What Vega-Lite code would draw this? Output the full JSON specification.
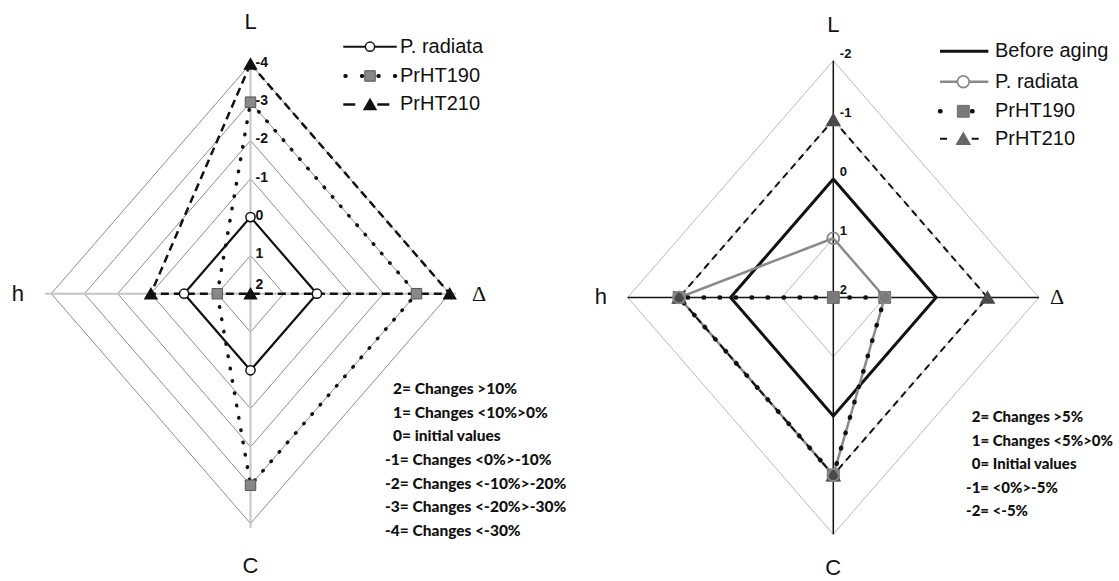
{
  "$schema": "https://vega.github.io/schema/vega-lite/v6.json",
  "padding": 0,
  "spacing": 0,
  "bounds": "flush",
  "background": "white",
  "config": {"view": {"stroke": null}, "axis": {"disable": true}, "concat": {"spacing": 0}},
  "datasets": {
    "left": [
      {"k":"g","s":"g1","a":"L","v":1,"o":0},{"k":"g","s":"g1","a":"D","v":1,"o":1},{"k":"g","s":"g1","a":"C","v":1,"o":2},{"k":"g","s":"g1","a":"h","v":1,"o":3},{"k":"g","s":"g1","a":"L","v":1,"o":4},
      {"k":"g","s":"g0","a":"L","v":0,"o":0},{"k":"g","s":"g0","a":"D","v":0,"o":1},{"k":"g","s":"g0","a":"C","v":0,"o":2},{"k":"g","s":"g0","a":"h","v":0,"o":3},{"k":"g","s":"g0","a":"L","v":0,"o":4},
      {"k":"g","s":"gm1","a":"L","v":-1,"o":0},{"k":"g","s":"gm1","a":"D","v":-1,"o":1},{"k":"g","s":"gm1","a":"C","v":-1,"o":2},{"k":"g","s":"gm1","a":"h","v":-1,"o":3},{"k":"g","s":"gm1","a":"L","v":-1,"o":4},
      {"k":"g","s":"gm2","a":"L","v":-2,"o":0},{"k":"g","s":"gm2","a":"D","v":-2,"o":1},{"k":"g","s":"gm2","a":"C","v":-2,"o":2},{"k":"g","s":"gm2","a":"h","v":-2,"o":3},{"k":"g","s":"gm2","a":"L","v":-2,"o":4},
      {"k":"g","s":"gm3","a":"L","v":-3,"o":0},{"k":"g","s":"gm3","a":"D","v":-3,"o":1},{"k":"g","s":"gm3","a":"C","v":-3,"o":2},{"k":"g","s":"gm3","a":"h","v":-3,"o":3},{"k":"g","s":"gm3","a":"L","v":-3,"o":4},
      {"k":"g","s":"gm4","a":"L","v":-4,"o":0},{"k":"g","s":"gm4","a":"D","v":-4,"o":1},{"k":"g","s":"gm4","a":"C","v":-4,"o":2},{"k":"g","s":"gm4","a":"h","v":-4,"o":3},{"k":"g","s":"gm4","a":"L","v":-4,"o":4},
      {"k":"s","s":"P. radiata","a":"L","v":0,"o":0},{"k":"s","s":"P. radiata","a":"D","v":0,"o":1},{"k":"s","s":"P. radiata","a":"C","v":0,"o":2},{"k":"s","s":"P. radiata","a":"h","v":0,"o":3},{"k":"s","s":"P. radiata","a":"L","v":0,"o":4},
      {"k":"s","s":"PrHT190","a":"L","v":-3,"o":0},{"k":"s","s":"PrHT190","a":"D","v":-3,"o":1},{"k":"s","s":"PrHT190","a":"C","v":-3,"o":2},{"k":"s","s":"PrHT190","a":"h","v":1,"o":3},{"k":"s","s":"PrHT190","a":"L","v":-3,"o":4},
      {"k":"s","s":"PrHT210","a":"L","v":-4,"o":0},{"k":"s","s":"PrHT210","a":"D","v":-4,"o":1},{"k":"s","s":"PrHT210","a":"C","v":2,"o":2},{"k":"s","s":"PrHT210","a":"h","v":-1,"o":3},{"k":"s","s":"PrHT210","a":"L","v":-4,"o":4},
      {"k":"t","t":"-4","a":"L","v":-4},{"k":"t","t":"-3","a":"L","v":-3},{"k":"t","t":"-2","a":"L","v":-2},{"k":"t","t":"-1","a":"L","v":-1},{"k":"t","t":"0","a":"L","v":0},{"k":"t","t":"1","a":"L","v":1},{"k":"t","t":"2","a":"L","v":2},
      {"k":"n","a":"n","v":2}
    ],
    "right": [
      {"k":"g","s":"g1","a":"L","v":1,"o":0},{"k":"g","s":"g1","a":"D","v":1,"o":1},{"k":"g","s":"g1","a":"C","v":1,"o":2},{"k":"g","s":"g1","a":"h","v":1,"o":3},{"k":"g","s":"g1","a":"L","v":1,"o":4},
      {"k":"g","s":"g0","a":"L","v":0,"o":0},{"k":"g","s":"g0","a":"D","v":0,"o":1},{"k":"g","s":"g0","a":"C","v":0,"o":2},{"k":"g","s":"g0","a":"h","v":0,"o":3},{"k":"g","s":"g0","a":"L","v":0,"o":4},
      {"k":"g","s":"gm1","a":"L","v":-1,"o":0},{"k":"g","s":"gm1","a":"D","v":-1,"o":1},{"k":"g","s":"gm1","a":"C","v":-1,"o":2},{"k":"g","s":"gm1","a":"h","v":-1,"o":3},{"k":"g","s":"gm1","a":"L","v":-1,"o":4},
      {"k":"g","s":"gm2","a":"L","v":-2,"o":0},{"k":"g","s":"gm2","a":"D","v":-2,"o":1},{"k":"g","s":"gm2","a":"C","v":-2,"o":2},{"k":"g","s":"gm2","a":"h","v":-2,"o":3},{"k":"g","s":"gm2","a":"L","v":-2,"o":4},
      {"k":"s","s":"Before aging","a":"L","v":0,"o":0},{"k":"s","s":"Before aging","a":"D","v":0,"o":1},{"k":"s","s":"Before aging","a":"C","v":0,"o":2},{"k":"s","s":"Before aging","a":"h","v":0,"o":3},{"k":"s","s":"Before aging","a":"L","v":0,"o":4},
      {"k":"s","s":"P. radiata","a":"L","v":1,"o":0},{"k":"s","s":"P. radiata","a":"D","v":1,"o":1},{"k":"s","s":"P. radiata","a":"C","v":-1,"o":2},{"k":"s","s":"P. radiata","a":"h","v":-1,"o":3},{"k":"s","s":"P. radiata","a":"L","v":1,"o":4},
      {"k":"s","s":"PrHT190","a":"L","v":2,"o":0},{"k":"s","s":"PrHT190","a":"D","v":1,"o":1},{"k":"s","s":"PrHT190","a":"C","v":-1,"o":2},{"k":"s","s":"PrHT190","a":"h","v":-1,"o":3},{"k":"s","s":"PrHT190","a":"L","v":2,"o":4},
      {"k":"s","s":"PrHT210","a":"L","v":-1,"o":0},{"k":"s","s":"PrHT210","a":"D","v":-1,"o":1},{"k":"s","s":"PrHT210","a":"C","v":-1,"o":2},{"k":"s","s":"PrHT210","a":"h","v":-1,"o":3},{"k":"s","s":"PrHT210","a":"L","v":-1,"o":4},
      {"k":"t","t":"-2","a":"L","v":-2},{"k":"t","t":"-1","a":"L","v":-1},{"k":"t","t":"0","a":"L","v":0},{"k":"t","t":"1","a":"L","v":1},{"k":"t","t":"2","a":"L","v":2},
      {"k":"n","a":"n","v":2}
    ]
  },
  "hconcat": [
    {
      "width": 560,
      "height": 581,
      "data": {"name": "left"},
      "transform": [
        {"calculate": "2 - datum.v", "as": "lev"},
        {"calculate": "datum.a === 'D' ? datum.lev : (datum.a === 'h' ? -datum.lev : 0)", "as": "px"},
        {"calculate": "datum.a === 'L' ? datum.lev : (datum.a === 'C' ? -datum.lev : 0)", "as": "py"}
      ],
      "encoding": {
        "x": {"field": "px", "type": "quantitative", "scale": {"domain": [-7.545, 9.322], "nice": false, "zero": false}},
        "y": {"field": "py", "type": "quantitative", "scale": {"domain": [-7.501, 7.668], "nice": false, "zero": false}}
      },
      "layer": [
        {"transform": [{"filter": "datum.k === 'g'"}], "mark": {"type": "line", "color": "#8c8c8c", "strokeWidth": 1}, "encoding": {"detail": {"field": "s"}, "order": {"field": "o"}}},
        {"transform": [{"filter": "datum.k === 'n'"}], "mark": {"type": "rule", "color": "#c4c4c4", "strokeWidth": 2}, "encoding": {"x": {"datum": -6.19, "type": "quantitative"}, "x2": {"datum": 6.19}, "y": {"datum": 0, "type": "quantitative"}}},
        {"transform": [{"filter": "datum.k === 'n'"}], "mark": {"type": "rule", "color": "#c4c4c4", "strokeWidth": 2}, "encoding": {"x": {"datum": 0, "type": "quantitative"}, "y": {"datum": 6.0, "type": "quantitative"}, "y2": {"datum": -6.12}}},
        {"transform": [{"filter": "datum.k === 's' && datum.s === 'P. radiata'"}], "mark": {"type": "line", "color": "#111", "strokeWidth": 2.2}, "encoding": {"order": {"field": "o"}}},
        {"transform": [{"filter": "datum.k === 's' && datum.s === 'PrHT190'"}], "mark": {"type": "line", "color": "#111", "strokeWidth": 3.5, "strokeDash": [0.5, 12], "strokeCap": "round"}, "encoding": {"order": {"field": "o"}}},
        {"transform": [{"filter": "datum.k === 's' && datum.s === 'PrHT210'"}], "mark": {"type": "line", "color": "#111", "strokeWidth": 2.5, "strokeDash": [8, 5]}, "encoding": {"order": {"field": "o"}}},
        {"transform": [{"filter": "datum.k === 's' && datum.s === 'P. radiata' && datum.o < 4"}], "mark": {"type": "point", "shape": "circle", "size": 85, "filled": true, "fill": "white", "stroke": "#111", "strokeWidth": 1.5, "opacity": 1}},
        {"transform": [{"filter": "datum.k === 's' && datum.s === 'PrHT190' && datum.o < 4"}], "mark": {"type": "point", "shape": "square", "size": 110, "filled": true, "fill": "#888888", "stroke": "#555", "strokeWidth": 1, "opacity": 1}},
        {"transform": [{"filter": "datum.k === 's' && datum.s === 'PrHT210' && datum.o < 4"}], "mark": {"type": "point", "shape": "triangle-up", "size": 120, "filled": true, "fill": "#111", "stroke": "#111", "opacity": 1}},
        {"transform": [{"filter": "datum.k === 't' && datum.t !== '2'"}], "mark": {"type": "text", "align": "left", "baseline": "middle", "dx": 5, "dy": -1, "font": "Liberation Sans", "fontSize": 14, "fontWeight": "bold", "color": "#111"}, "encoding": {"text": {"field": "t"}}},
        {"transform": [{"filter": "datum.k === 't' && datum.t === '2'"}], "mark": {"type": "text", "align": "left", "baseline": "middle", "dx": 5, "dy": -9, "font": "Liberation Sans", "fontSize": 14, "fontWeight": "bold", "color": "#111"}, "encoding": {"text": {"field": "t"}}},
        {"transform": [{"filter": "datum.k === 'n'"}], "mark": {"type": "text", "text": "L", "align": "center", "baseline": "middle", "font": "Liberation Sans", "fontSize": 22, "color": "#111"}, "encoding": {"x": {"datum": 0, "type": "quantitative"}, "y": {"datum": 7.102, "type": "quantitative"}}},
        {"transform": [{"filter": "datum.k === 'n'"}], "mark": {"type": "text", "text": "h", "align": "center", "baseline": "middle", "font": "Liberation Sans", "fontSize": 22, "color": "#111"}, "encoding": {"x": {"datum": -7.003, "type": "quantitative"}, "y": {"datum": 0, "type": "quantitative"}}},
        {"transform": [{"filter": "datum.k === 'n'"}], "mark": {"type": "text", "text": "Δ", "align": "center", "baseline": "middle", "font": "Liberation Serif", "fontSize": 22, "color": "#111"}, "encoding": {"x": {"datum": 6.883, "type": "quantitative"}, "y": {"datum": 0, "type": "quantitative"}}},
        {"transform": [{"filter": "datum.k === 'n'"}], "mark": {"type": "text", "text": "C", "align": "center", "baseline": "middle", "font": "Liberation Sans", "fontSize": 22, "color": "#111"}, "encoding": {"x": {"datum": 0, "type": "quantitative"}, "y": {"datum": -7.12, "type": "quantitative"}}},
        {"transform": [{"filter": "datum.k === 'n'"}], "mark": {"type": "rule", "color": "#111", "strokeWidth": 2}, "encoding": {"x": {"datum": 2.795, "type": "quantitative"}, "x2": {"datum": 4.404}, "y": {"datum": 6.449, "type": "quantitative"}}},
        {"transform": [{"filter": "datum.k === 'n'"}], "mark": {"type": "point", "shape": "circle", "size": 85, "filled": true, "fill": "white", "stroke": "#111", "strokeWidth": 1.5, "opacity": 1}, "encoding": {"x": {"datum": 3.6, "type": "quantitative"}, "y": {"datum": 6.449, "type": "quantitative"}}},
        {"transform": [{"filter": "datum.k === 'n'"}], "mark": {"type": "text", "text": "P. radiata", "align": "left", "baseline": "middle", "font": "Liberation Sans", "fontSize": 20, "color": "#111"}, "encoding": {"x": {"datum": 4.503, "type": "quantitative"}, "y": {"datum": 6.449, "type": "quantitative"}}},
        {"transform": [{"filter": "datum.k === 'n'"}], "mark": {"type": "rule", "color": "#111", "strokeWidth": 4, "strokeDash": [0.5, 16], "strokeCap": "round"}, "encoding": {"x": {"datum": 2.855, "type": "quantitative"}, "x2": {"datum": 4.404}, "y": {"datum": 5.684, "type": "quantitative"}}},
        {"transform": [{"filter": "datum.k === 'n'"}], "mark": {"type": "point", "shape": "square", "size": 110, "filled": true, "fill": "#888888", "stroke": "#555", "strokeWidth": 1, "opacity": 1}, "encoding": {"x": {"datum": 3.6, "type": "quantitative"}, "y": {"datum": 5.684, "type": "quantitative"}}},
        {"transform": [{"filter": "datum.k === 'n'"}], "mark": {"type": "text", "text": "PrHT190", "align": "left", "baseline": "middle", "font": "Liberation Sans", "fontSize": 20, "color": "#111"}, "encoding": {"x": {"datum": 4.503, "type": "quantitative"}, "y": {"datum": 5.684, "type": "quantitative"}}},
        {"transform": [{"filter": "datum.k === 'n'"}], "mark": {"type": "rule", "color": "#111", "strokeWidth": 2.5, "strokeDash": [12, 22]}, "encoding": {"x": {"datum": 2.795, "type": "quantitative"}, "x2": {"datum": 4.404}, "y": {"datum": 4.94, "type": "quantitative"}}},
        {"transform": [{"filter": "datum.k === 'n'"}], "mark": {"type": "point", "shape": "triangle-up", "size": 120, "filled": true, "fill": "#111", "stroke": "#111", "opacity": 1}, "encoding": {"x": {"datum": 3.6, "type": "quantitative"}, "y": {"datum": 4.94, "type": "quantitative"}}},
        {"transform": [{"filter": "datum.k === 'n'"}], "mark": {"type": "text", "text": "PrHT210", "align": "left", "baseline": "middle", "font": "Liberation Sans", "fontSize": 20, "color": "#111"}, "encoding": {"x": {"datum": 4.503, "type": "quantitative"}, "y": {"datum": 4.94, "type": "quantitative"}}},
        {"transform": [{"filter": "datum.k === 'n'"}], "mark": {"type": "text", "text": ["2= Changes >10%", "1= Changes <10%>0%", "0= initial values"], "lineHeight": 23.6, "align": "left", "baseline": "alphabetic", "font": "Lato", "fontSize": 15.5, "fontWeight": 900, "color": "#111"}, "encoding": {"x": {"datum": 4.292, "type": "quantitative"}, "y": {"datum": -2.619, "type": "quantitative"}}},
        {"transform": [{"filter": "datum.k === 'n'"}], "mark": {"type": "text", "text": ["-1= Changes <0%>-10%", "-2= Changes <-10%>-20%", "-3= Changes <-20%>-30%", "-4= Changes <-30%"], "lineHeight": 23.6, "align": "left", "baseline": "alphabetic", "font": "Lato", "fontSize": 15.5, "fontWeight": 900, "color": "#111"}, "encoding": {"x": {"datum": 4.051, "type": "quantitative"}, "y": {"datum": -4.473, "type": "quantitative"}}}
      ]
    },
    {
      "width": 559,
      "height": 581,
      "data": {"name": "right"},
      "transform": [
        {"calculate": "2 - datum.v", "as": "lev"},
        {"calculate": "datum.a === 'D' ? datum.lev : (datum.a === 'h' ? -datum.lev : 0)", "as": "px"},
        {"calculate": "datum.a === 'L' ? datum.lev : (datum.a === 'C' ? -datum.lev : 0)", "as": "py"}
      ],
      "encoding": {
        "x": {"field": "px", "type": "quantitative", "scale": {"domain": [-5.317, 5.558], "nice": false, "zero": false}},
        "y": {"field": "py", "type": "quantitative", "scale": {"domain": [-4.789, 5.025], "nice": false, "zero": false}}
      },
      "layer": [
        {"transform": [{"filter": "datum.k === 'g'"}], "mark": {"type": "line", "color": "#b8b8b8", "strokeWidth": 1}, "encoding": {"detail": {"field": "s"}, "order": {"field": "o"}}},
        {"transform": [{"filter": "datum.k === 'n'"}], "mark": {"type": "rule", "color": "#111", "strokeWidth": 1.5}, "encoding": {"x": {"datum": -4, "type": "quantitative"}, "x2": {"datum": 4}, "y": {"datum": 0, "type": "quantitative"}}},
        {"transform": [{"filter": "datum.k === 'n'"}], "mark": {"type": "rule", "color": "#111", "strokeWidth": 1.5}, "encoding": {"x": {"datum": 0, "type": "quantitative"}, "y": {"datum": 4, "type": "quantitative"}, "y2": {"datum": -4}}},
        {"transform": [{"filter": "datum.k === 's' && datum.s === 'Before aging'"}], "mark": {"type": "line", "color": "#111", "strokeWidth": 3}, "encoding": {"order": {"field": "o"}}},
        {"transform": [{"filter": "datum.k === 's' && datum.s === 'P. radiata'"}], "mark": {"type": "line", "color": "#8a8a8a", "strokeWidth": 2.5}, "encoding": {"order": {"field": "o"}}},
        {"transform": [{"filter": "datum.k === 's' && datum.s === 'PrHT190'"}], "mark": {"type": "line", "color": "#111", "strokeWidth": 4.5, "strokeDash": [0.5, 15.5], "strokeCap": "round"}, "encoding": {"order": {"field": "o"}}},
        {"transform": [{"filter": "datum.k === 's' && datum.s === 'PrHT210'"}], "mark": {"type": "line", "color": "#111", "strokeWidth": 2, "strokeDash": [7, 5]}, "encoding": {"order": {"field": "o"}}},
        {"transform": [{"filter": "datum.k === 's' && datum.s === 'PrHT190' && datum.o < 4"}], "mark": {"type": "point", "shape": "square", "size": 140, "filled": true, "fill": "#7a7a7a", "stroke": "#6a6a6a", "strokeWidth": 1, "opacity": 1}},
        {"transform": [{"filter": "datum.k === 's' && datum.s === 'PrHT210' && datum.o < 4"}], "mark": {"type": "point", "shape": "triangle-up", "size": 150, "filled": true, "fill": "#4a4a4a", "stroke": "#4a4a4a", "opacity": 1}},
        {"transform": [{"filter": "datum.k === 's' && datum.s === 'P. radiata' && datum.o < 4"}], "mark": {"type": "point", "shape": "circle", "size": 140, "filled": false, "stroke": "#888", "strokeWidth": 1.8, "opacity": 1}},
        {"transform": [{"filter": "datum.k === 't'"}], "mark": {"type": "text", "align": "left", "baseline": "middle", "dx": 6.5, "dy": -7, "font": "Liberation Sans", "fontSize": 13, "fontWeight": "bold", "color": "#111"}, "encoding": {"text": {"field": "t"}}},
        {"transform": [{"filter": "datum.k === 'n'"}], "mark": {"type": "text", "text": "L", "align": "center", "baseline": "middle", "font": "Liberation Sans", "fontSize": 22, "color": "#111"}, "encoding": {"x": {"datum": 0, "type": "quantitative"}, "y": {"datum": 4.603, "type": "quantitative"}}},
        {"transform": [{"filter": "datum.k === 'n'"}], "mark": {"type": "text", "text": "h", "align": "center", "baseline": "middle", "font": "Liberation Sans", "fontSize": 22, "color": "#111"}, "encoding": {"x": {"datum": -4.52, "type": "quantitative"}, "y": {"datum": 0, "type": "quantitative"}}},
        {"transform": [{"filter": "datum.k === 'n'"}], "mark": {"type": "text", "text": "Δ", "align": "center", "baseline": "middle", "font": "Liberation Serif", "fontSize": 22, "color": "#111"}, "encoding": {"x": {"datum": 4.352, "type": "quantitative"}, "y": {"datum": 0, "type": "quantitative"}}},
        {"transform": [{"filter": "datum.k === 'n'"}], "mark": {"type": "text", "text": "C", "align": "center", "baseline": "middle", "font": "Liberation Sans", "fontSize": 22, "color": "#111"}, "encoding": {"x": {"datum": 0, "type": "quantitative"}, "y": {"datum": -4.57, "type": "quantitative"}}},
        {"transform": [{"filter": "datum.k === 'n'"}], "mark": {"type": "rule", "color": "#111", "strokeWidth": 3}, "encoding": {"x": {"datum": 2.076, "type": "quantitative"}, "x2": {"datum": 3.016}, "y": {"datum": 4.159, "type": "quantitative"}}},
        {"transform": [{"filter": "datum.k === 'n'"}], "mark": {"type": "text", "text": "Before aging", "align": "left", "baseline": "middle", "font": "Liberation Sans", "fontSize": 20, "color": "#111"}, "encoding": {"x": {"datum": 3.146, "type": "quantitative"}, "y": {"datum": 4.159, "type": "quantitative"}}},
        {"transform": [{"filter": "datum.k === 'n'"}], "mark": {"type": "rule", "color": "#8a8a8a", "strokeWidth": 2.5}, "encoding": {"x": {"datum": 2.076, "type": "quantitative"}, "x2": {"datum": 3.016}, "y": {"datum": 3.645, "type": "quantitative"}}},
        {"transform": [{"filter": "datum.k === 'n'"}], "mark": {"type": "point", "shape": "circle", "size": 140, "filled": true, "fill": "white", "stroke": "#888", "strokeWidth": 1.8, "opacity": 1}, "encoding": {"x": {"datum": 2.529, "type": "quantitative"}, "y": {"datum": 3.645, "type": "quantitative"}}},
        {"transform": [{"filter": "datum.k === 'n'"}], "mark": {"type": "text", "text": "P. radiata", "align": "left", "baseline": "middle", "font": "Liberation Sans", "fontSize": 20, "color": "#111"}, "encoding": {"x": {"datum": 3.146, "type": "quantitative"}, "y": {"datum": 3.645, "type": "quantitative"}}},
        {"transform": [{"filter": "datum.k === 'n'"}], "mark": {"type": "rule", "color": "#111", "strokeWidth": 4.5, "strokeDash": [0.5, 31.5], "strokeCap": "round"}, "encoding": {"x": {"datum": 2.076, "type": "quantitative"}, "x2": {"datum": 3.016}, "y": {"datum": 3.145, "type": "quantitative"}}},
        {"transform": [{"filter": "datum.k === 'n'"}], "mark": {"type": "point", "shape": "square", "size": 140, "filled": true, "fill": "#7a7a7a", "stroke": "#6a6a6a", "strokeWidth": 1, "opacity": 1}, "encoding": {"x": {"datum": 2.529, "type": "quantitative"}, "y": {"datum": 3.145, "type": "quantitative"}}},
        {"transform": [{"filter": "datum.k === 'n'"}], "mark": {"type": "text", "text": "PrHT190", "align": "left", "baseline": "middle", "font": "Liberation Sans", "fontSize": 20, "color": "#111"}, "encoding": {"x": {"datum": 3.146, "type": "quantitative"}, "y": {"datum": 3.145, "type": "quantitative"}}},
        {"transform": [{"filter": "datum.k === 'n'"}], "mark": {"type": "rule", "color": "#111", "strokeWidth": 2, "strokeDash": [7, 24.7]}, "encoding": {"x": {"datum": 2.076, "type": "quantitative"}, "x2": {"datum": 3.016}, "y": {"datum": 2.682, "type": "quantitative"}}},
        {"transform": [{"filter": "datum.k === 'n'"}], "mark": {"type": "point", "shape": "triangle-up", "size": 150, "filled": true, "fill": "#666", "stroke": "#666", "opacity": 1}, "encoding": {"x": {"datum": 2.529, "type": "quantitative"}, "y": {"datum": 2.682, "type": "quantitative"}}},
        {"transform": [{"filter": "datum.k === 'n'"}], "mark": {"type": "text", "text": "PrHT210", "align": "left", "baseline": "middle", "font": "Liberation Sans", "fontSize": 20, "color": "#111"}, "encoding": {"x": {"datum": 3.146, "type": "quantitative"}, "y": {"datum": 2.682, "type": "quantitative"}}},
        {"transform": [{"filter": "datum.k === 'n'"}], "mark": {"type": "text", "text": ["2= Changes >5%", "1= Changes <5%>0%", "0= Initial values"], "lineHeight": 23.4, "align": "left", "baseline": "alphabetic", "font": "Lato", "fontSize": 15, "fontWeight": 900, "color": "#111"}, "encoding": {"x": {"datum": 2.693, "type": "quantitative"}, "y": {"datum": -2.11, "type": "quantitative"}}},
        {"transform": [{"filter": "datum.k === 'n'"}], "mark": {"type": "text", "text": ["-1= <0%>-5%", "-2= <-5%"], "lineHeight": 23.4, "align": "left", "baseline": "alphabetic", "font": "Lato", "fontSize": 15, "fontWeight": 900, "color": "#111"}, "encoding": {"x": {"datum": 2.582, "type": "quantitative"}, "y": {"datum": -3.302, "type": "quantitative"}}}
      ]
    }
  ]
}
